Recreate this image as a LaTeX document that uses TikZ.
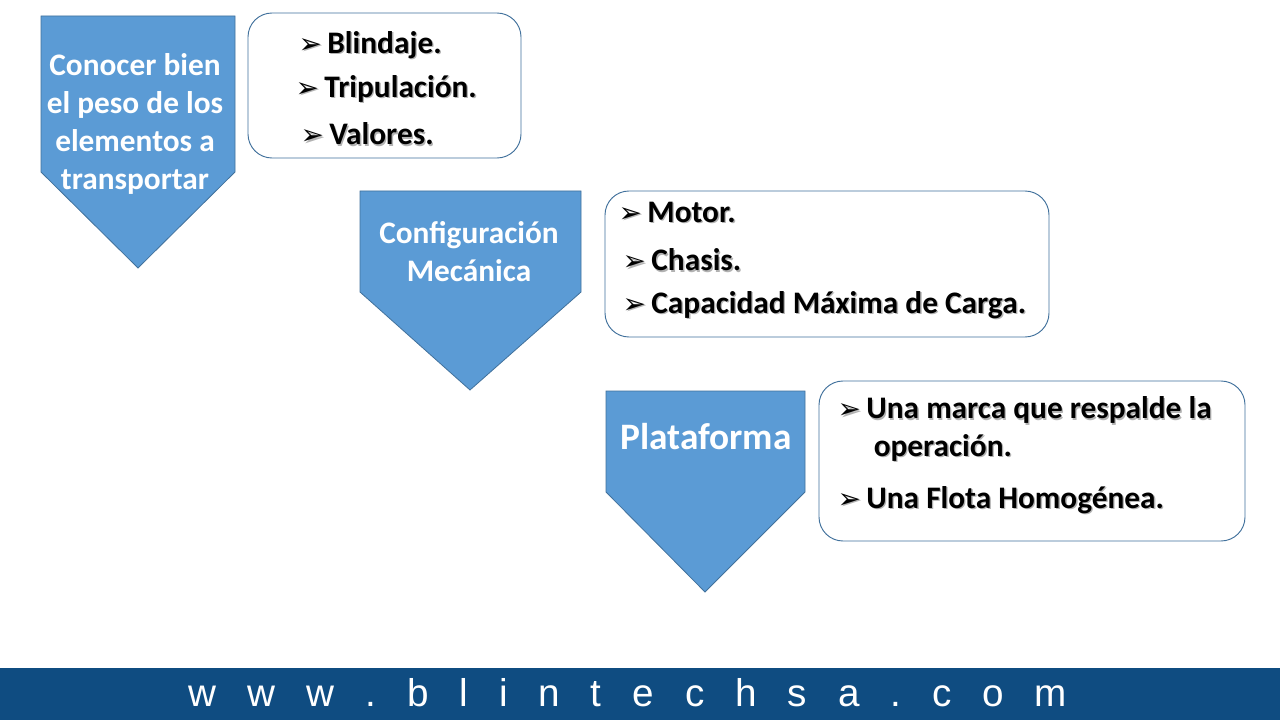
\documentclass[tikz,border=0pt]{standalone}
\usepackage{fontspec}
\setmainfont{Carlito}
\newfontfamily\symfont{DejaVu Sans}
\newfontfamily\webfont{Liberation Sans}
\usepackage{tikz}
\definecolor{boxblue}{HTML}{5B9BD5}
\definecolor{edgeblue}{HTML}{41719C}
\definecolor{footblue}{HTML}{0F4C81}
\newcommand{\bul}{{\symfont\fontsize{21}{21}\selectfont ➢}\,}
\tikzset{
  chev/.style={fill=boxblue, draw=edgeblue, line width=0.6pt},
  lst/.style={draw=edgeblue, rounded corners=18pt, line width=0.7pt, fill=white},
  chevtxt/.style={text=white, font=\bfseries\fontsize{23.5}{28.5}\selectfont, align=center},
  item/.style={anchor=west, font=\bfseries\fontsize{23.5}{28}\selectfont, align=left},
  shadow/.style={anchor=west, text=black!30, font=\bfseries\fontsize{23.5}{28}\selectfont, align=left}
}
\newcommand{\bitem}[3]{% name, position, text
  \node[shadow] at ([xshift=1pt,yshift=-1pt]#2) {#3};
  \node[item] (#1) at (#2) {#3};}
\begin{document}
\begin{tikzpicture}[x=0.75pt,y=-0.75pt]
\useasboundingbox (0,0) rectangle (1280,720);
\fill[white] (0,0) rectangle (1280,720);
% footer
\fill[footblue] (0,668) rectangle (1280,720);
\node[text=white, font=\webfont\fontsize{29}{29}\selectfont] (web) at (628,693)
  {w\hspace{0.8em}w\hspace{0.8em}w\hspace{0.8em}.\hspace{0.8em}b\hspace{0.8em}l\hspace{0.8em}i\hspace{0.8em}n\hspace{0.8em}t\hspace{0.8em}e\hspace{0.8em}c\hspace{0.8em}h\hspace{0.8em}s\hspace{0.8em}a\hspace{0.8em}.\hspace{0.8em}c\hspace{0.8em}o\hspace{0.8em}m};
% chevrons
\draw[chev] (41,16) -- (235,16) -- (235,172) -- (138,268) -- (41,172) -- cycle;
\draw[chev] (360,191) -- (581,191) -- (581,292) -- (470,390) -- (360,292) -- cycle;
\draw[chev] (606,391) -- (805,391) -- (805,492) -- (705,592) -- (606,492) -- cycle;
\node[chevtxt] (peso) at (135,124) {Conocer bien\\el peso de los\\elementos a\\transportar};
\node[chevtxt] (conf) at (469,252) {Configuración\\Mecánica};
\node[chevtxt, font=\bfseries\fontsize{28}{30}\selectfont] (plat) at (706,437) {Plataforma};
% lists
\draw[lst] (248,13) rectangle (521,158);
\draw[lst] (605,191) rectangle (1049,337);
\draw[lst] (819,381) rectangle (1245,541);
\bitem{b1}{294,45}{\bul Blindaje.}
\bitem{b2}{291,89}{\bul Tripulación.}
\bitem{b3}{296,134}{\bul Valores.}
\bitem{m1}{614,212}{\bul Motor.}
\bitem{m2}{618,260}{\bul Chasis.}
\bitem{m3}{618,305}{\bul Capacidad Máxima de Carga.}
\bitem{p1}{833,429}{\bul Una marca que respalde la\\\hspace{1.15em}operación.}
\bitem{p2}{833,500}{\bul Una Flota Homogénea.}
\end{tikzpicture}
\end{document}
